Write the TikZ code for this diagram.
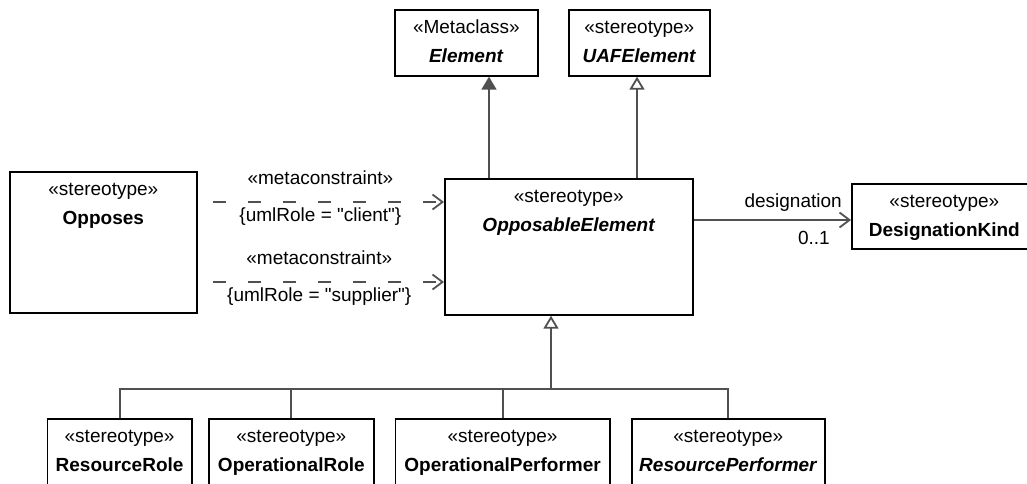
\documentclass[tikz,border=0pt]{standalone}
\usepackage{fontspec}
\setmainfont{Liberation Sans}
\usetikzlibrary{arrows.meta}
\definecolor{linegray}{RGB}{80,80,80}

\tikzset{
	classbox/.style={draw=black, line width=1.7pt, anchor=north west, inner sep=0pt},
	umlclass/.style 2 args={label={[anchor=base,yshift=-24pt]north:#1},
		label={[anchor=base,yshift=-53pt]north:\textbf{#2}}},
	conn/.style={draw=linegray, line width=1.8pt},
	gen/.style={conn, -{Triangle[open,length=13pt,width=15pt]}},
	ext/.style={conn, -{Triangle[length=13pt,width=15pt]}},
	assoc/.style={conn, -{Straight Barb[length=10pt,width=15pt]}},
	metadep/.style={assoc, dash pattern=on 13pt off 22pt}
}

\begin{document}
\begin{tikzpicture}[x=1pt, y=-1pt, font=\fontsize{19pt}{23pt}\selectfont]
						\useasboundingbox (0,0) rectangle (1027,483);
						\node [classbox, minimum width=143pt, minimum height=66pt, umlclass={«Metaclass»}{\itshape Element}] (element) at (394,9) {};
						\node [classbox, minimum width=141pt, minimum height=66pt, umlclass={«stereotype»}{\itshape UAFElement}] (uafelement) at (568,9) {};
						\node [classbox, minimum width=248pt, minimum height=136pt, umlclass={«stereotype»}{\itshape OpposableElement}] (opposable) at (444,178) {};
						\node [classbox, minimum width=187pt, minimum height=141pt, umlclass={«stereotype»}{Opposes}] (opposes) at (9,171) {};
						\node [classbox, minimum width=185pt, minimum height=65pt, umlclass={«stereotype»}{DesignationKind}] (designation) at (851,183) {};
						\node [classbox, minimum width=144.5pt, minimum height=67pt, umlclass={«stereotype»}{ResourceRole}] (resrole) at (46.5,418) {};
						\node [classbox, minimum width=165pt, minimum height=67pt, umlclass={«stereotype»}{OperationalRole}] (oprole) at (208,418) {};
						\node [classbox, minimum width=214.5pt, minimum height=67pt, umlclass={«stereotype»}{OperationalPerformer}] (opperf) at (394.5,418) {};
						\node [classbox, minimum width=193pt, minimum height=67pt, umlclass={«stereotype»}{\itshape ResourcePerformer}] (resperf) at (631,418) {};
						\coordinate (e1) at ([xshift=45pt]opposable.north west);
						\draw [ext] (e1) -- (e1 |- element.south);
						\coordinate (u1) at ([xshift=193pt]opposable.north west);
						\draw [gen] (u1) -- (u1 |- uafelement.south);
						\coordinate (d1) at ([yshift=-42pt]opposable.north east);
						\draw [assoc] (d1) -- (d1 -| designation.west)
							node [pos=1, anchor=base east, xshift=-5pt, yshift=13pt] {designation}
							node [pos=1, anchor=base east, xshift=-17pt, yshift=-24pt] {0..1};
						\coordinate (m1) at (213,202);
						\draw [metadep] (m1) -- (m1 -| opposable.west)
							node [pos=.465, anchor=base, yshift=18pt] {«metaconstraint»}
							node [pos=.465, anchor=base, yshift=-19pt] {\{umlRole = \textquotedbl client\textquotedbl\}};
						\coordinate (m2) at (213,282);
						\draw [metadep] (m2) -- (m2 -| opposable.west)
							node [pos=.46, anchor=base, yshift=18pt] {«metaconstraint»}
							node [pos=.46, anchor=base, yshift=-19pt] {\{umlRole = \textquotedbl supplier\textquotedbl\}};
						\coordinate (bus) at (551,389);
						\draw [gen] (bus) -- (bus |- opposable.south);
						\draw [conn] (resrole.north) |- (bus) -| (resperf.north);
						\foreach \n in {oprole,opperf}
							\draw [conn] (\n.north) -- (\n.north |- bus);
\end{tikzpicture}
\end{document}
